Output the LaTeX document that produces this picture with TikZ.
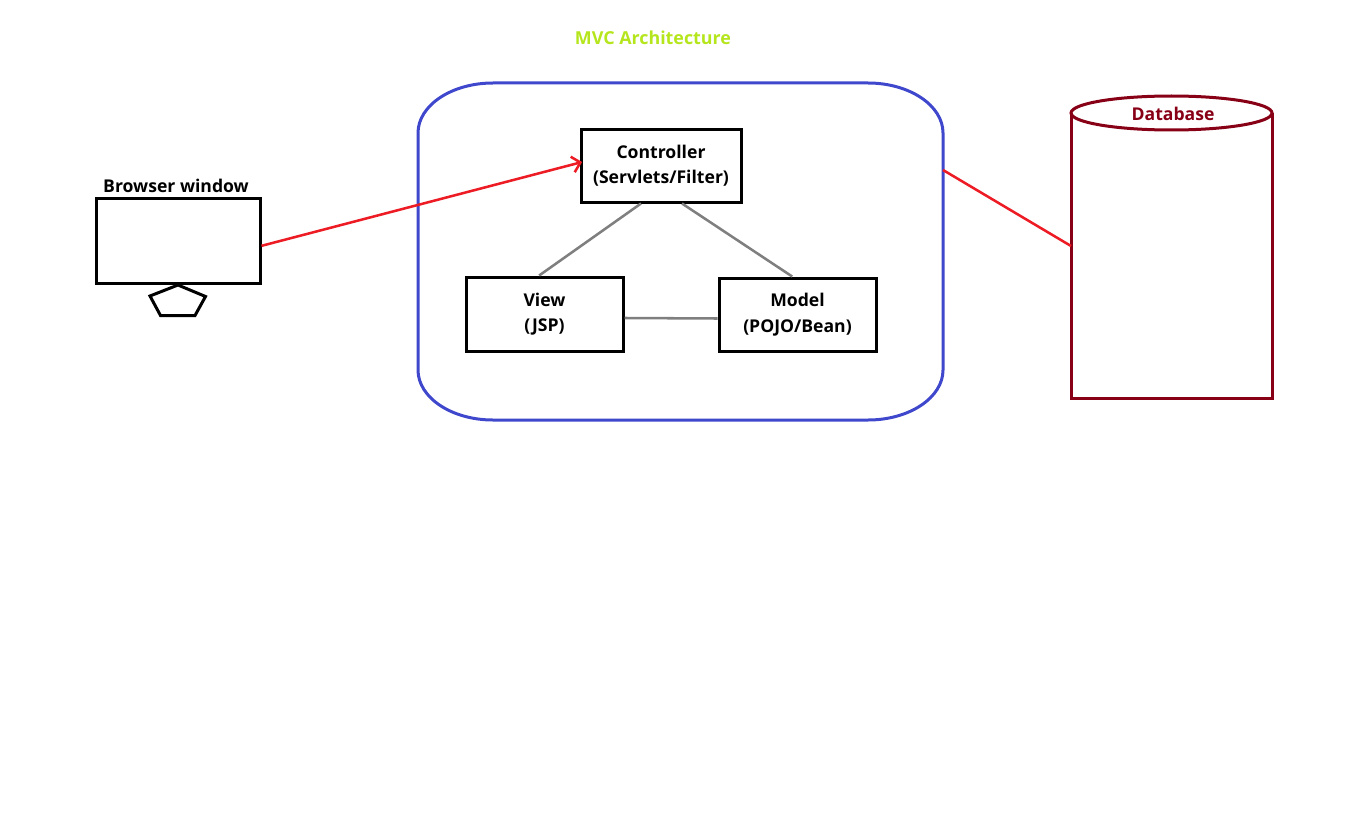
\documentclass[tikz,border=0pt]{standalone}
\usepackage{fontspec}
\setmainfont{Open Sans}
\usetikzlibrary{positioning,arrows.meta}

\definecolor{paintRed}{RGB}{237,28,36}
\definecolor{paintBlue}{RGB}{63,72,204}
\definecolor{paintMaroon}{RGB}{136,0,21}
\definecolor{paintLime}{RGB}{181,230,29}
\definecolor{paintGray}{RGB}{127,127,127}

\tikzset{every picture/.style={line width=0.75pt}}
\tikzset{
	box/.style={draw, line width=2.25pt, inner sep=0pt, align=center, font=\bfseries\fontsize{13.2pt}{19pt}\selectfont},
	link/.style={draw=paintGray, line width=1.9pt},
	redline/.style={draw=paintRed, line width=1.9pt}
}

\begin{document}
\begin{tikzpicture}[x=0.75pt,y=0.75pt,yscale=-1,xscale=1]
	\useasboundingbox (0,0) rectangle (1358,831);
	
	%Shape: Rectangle (browser window)
	\node (browser) [box, minimum width=123pt, minimum height=63.75pt] at (178,240.5) {};
	%Shape: Pentagon (stand)
	\draw [line width=2.25pt, line join=miter] (178,285) -- (205.5,296.5) -- (195,315.5) -- (160.5,315.5) -- (150,296) -- cycle ;
	%Shape: Rounded Rectangle (MVC frame)
	\draw [draw=paintBlue, line width=2.25pt] (418,133) .. controls (418,105.4) and (451.6,83) .. (493,83) -- (868,83) .. controls (909.4,83) and (943,105.4) .. (943,133) -- (943,370) .. controls (943,397.6) and (909.4,420) .. (868,420) -- (493,420) .. controls (451.6,420) and (418,397.6) .. (418,370) -- cycle ;
	\coordinate (frameE) at (943,170);
	%Shape: Rectangle (controller)
	\node (ctrl) [box, minimum width=120pt, minimum height=54pt] at (661,166) {Controller\\(Servlets/Filter)};
	%Shape: Rectangle (view)
	\node (view) [box, minimum width=117.75pt, minimum height=55.5pt] at (544.5,314) {View\\(JSP)};
	%Shape: Rectangle (model)
	\node (model) [box, minimum width=117.75pt, minimum height=54.75pt] at (797.5,314.5) {Model\\(POJO/Bean)};
	%Shape: Cylinder (database)
	\draw [draw=paintMaroon, line width=2.25pt] (1071,113) -- (1071,398) -- (1272,398) -- (1272,113) ;
	\draw [draw=paintMaroon, line width=2.25pt] (1071,113) .. controls (1071,103.6) and (1116,96) .. (1171.5,96) .. controls (1227,96) and (1272,103.6) .. (1272,113) .. controls (1272,122.4) and (1227,130) .. (1171.5,130) .. controls (1116,130) and (1071,122.4) .. (1071,113) -- cycle ;
	\coordinate (dbW) at (1071,246);
	
	%Straight Lines
	\draw [redline, -{Straight Barb[length=6pt,width=12pt]}] ([yshift=4pt]browser.east) -- ([xshift=2pt,yshift=-3pt]ctrl.west) ;
	%Straight Lines
	\draw [link] ([xshift=-15pt]ctrl.south) -- ([xshift=-4pt]view.north) ;
	%Straight Lines
	\draw [link] ([xshift=15.75pt]ctrl.south) -- ([xshift=-4pt]model.north) ;
	%Straight Lines
	\draw [link] ([yshift=3pt]view.east) -- ([yshift=3pt]model.west) ;
	%Straight Lines
	\draw [redline] (frameE) -- (dbW) ;
	
	% Text Node
	\draw (653,38) node (title) [inner sep=0.75pt] [font=\bfseries\fontsize{13.4pt}{15pt}\selectfont, text=paintLime] {MVC Architecture};
	% Text Node
	\draw (176,186) node (browserLbl) [inner sep=0.75pt] [font=\bfseries\fontsize{13.2pt}{15pt}\selectfont] {Browser window};
	% Text Node
	\draw (1173,114) node (dbLbl) [inner sep=0.75pt] [font=\bfseries\fontsize{13.2pt}{15pt}\selectfont, text=paintMaroon] {Database};
	
\end{tikzpicture}
\end{document}
